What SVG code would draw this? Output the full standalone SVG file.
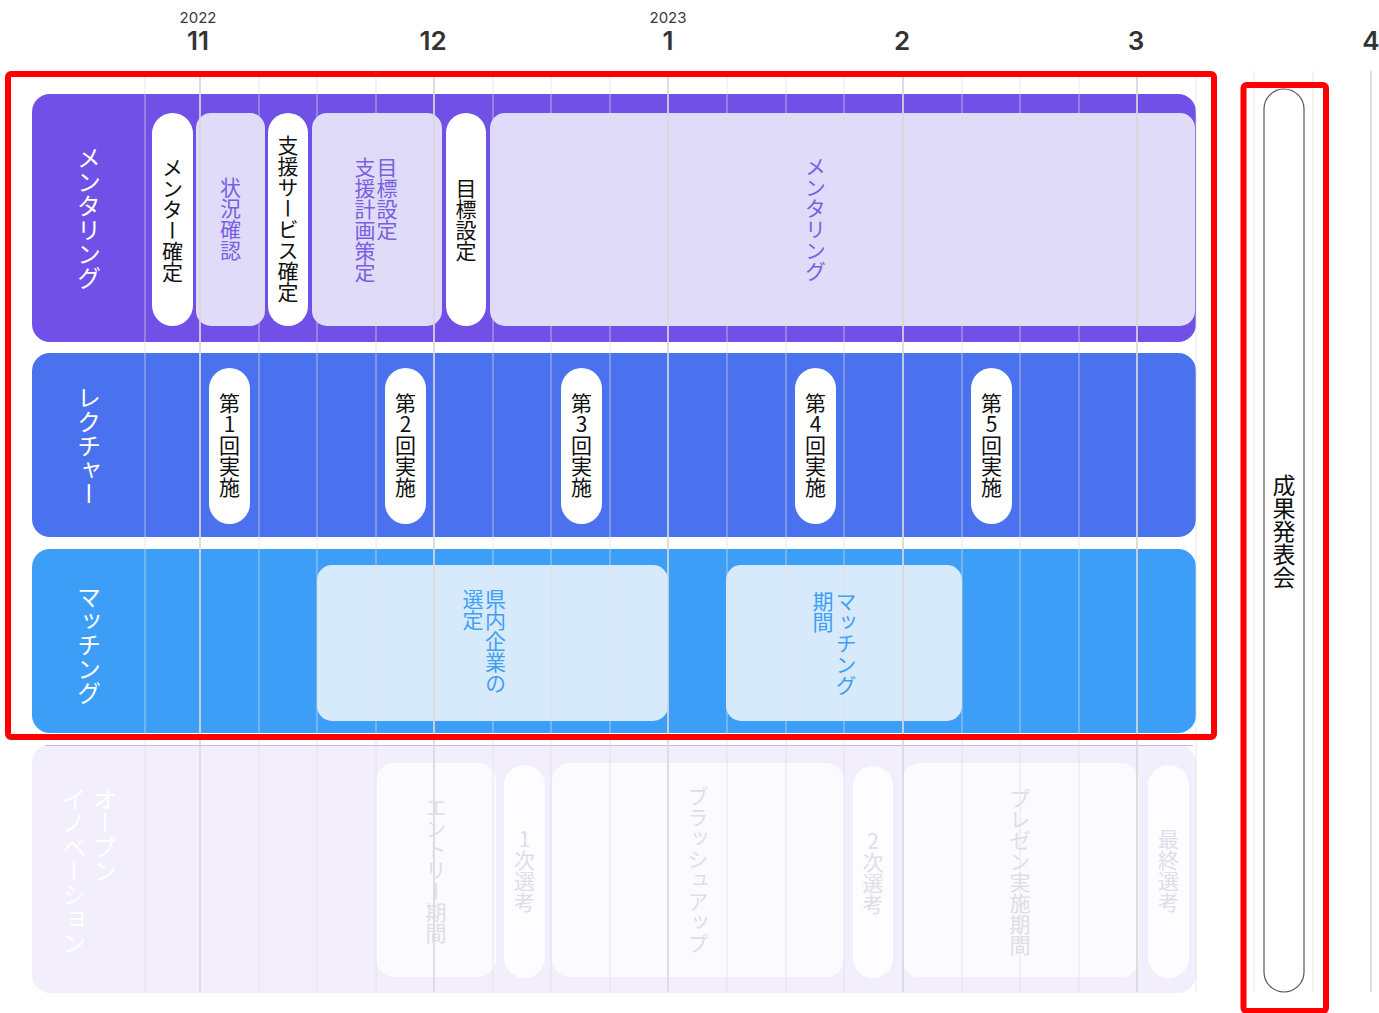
<svg xmlns="http://www.w3.org/2000/svg" width="1379" height="1013" viewBox="0 0 1379 1013">
<style>
.yr{font-family:Inter,"Noto Sans",sans-serif;font-size:15px;fill:#3a3a3a;text-anchor:middle}
.mo{font-family:Inter,"Noto Sans",sans-serif;font-size:26px;font-weight:600;fill:#333;text-anchor:middle}
.v{writing-mode:vertical-rl;text-orientation:upright;font-family:"Noto Sans CJK JP",sans-serif;font-size:21px;text-anchor:middle}
.vs{writing-mode:vertical-rl;text-orientation:upright;font-family:"Noto Sans CJK JP",sans-serif;font-size:21px;text-anchor:start}
.head{font-size:24px;fill:#fff}
.blk{fill:#111}
.lav{fill:#7a5fe0}
.sky{fill:#3f9ff5}
.fad{fill:#e0dde8}
.g{stroke:#dedede;stroke-opacity:.7;stroke-width:1}
.gm{stroke:#d8d8d8;stroke-opacity:.85;stroke-width:2}
.pill{fill:#fff}
.red{fill:none;stroke:#ff0000;stroke-width:6}
</style>
<rect width="1379" height="1013" fill="#fff"/>
<g id="timeline-header">
<text class="yr" x="198" y="23">2022</text>
<text class="yr" x="668" y="23">2023</text>
<text class="mo" x="198" y="50">11</text>
<text class="mo" x="433" y="50">12</text>
<text class="mo" x="668" y="50">1</text>
<text class="mo" x="902" y="50">2</text>
<text class="mo" x="1136" y="50">3</text>
<text class="mo" x="1371" y="50">4</text>
</g>
<g id="row-mentoring">
<rect x="32" y="94" width="1164" height="248" rx="18" fill="#7050e6"/>
<rect x="196" y="113" width="69" height="213" rx="15" fill="#dfdbf9"/>
<rect x="312" y="113" width="130" height="213" rx="15" fill="#dfdbf9"/>
<rect x="490" y="113" width="705" height="213" rx="15" fill="#dfdbf9"/>
</g>
<g id="row-lecture">
<rect x="32" y="353" width="1164" height="184" rx="18" fill="#4a72ee"/>
</g>
<g id="row-matching">
<rect x="32" y="549" width="1164" height="184" rx="18" fill="#3c9ef7"/>
<rect x="317" y="565" width="351" height="156" rx="15" fill="#d7eafb"/>
<rect x="726" y="565" width="236" height="156" rx="15" fill="#d7eafb"/>
</g>
<g id="row-open-innovation">
<rect x="32" y="745" width="1164" height="248" rx="18" fill="#f3eefc"/>
<line x1="45" y1="745.5" x2="1193" y2="745.5" stroke="#c4b9ee" stroke-width="1"/>
<rect x="376" y="763" width="120" height="214" rx="18" fill="#fbfaff"/>
<rect x="552" y="763" width="292" height="214" rx="18" fill="#fbfaff"/>
<rect x="902" y="763" width="237" height="214" rx="18" fill="#fbfaff"/>
</g>
<g id="grid">
<line class="g" x1="145" y1="71" x2="145" y2="992"/>
<line class="gm" x1="200" y1="71" x2="200" y2="992"/>
<line class="g" x1="259" y1="71" x2="259" y2="992"/>
<line class="g" x1="317" y1="71" x2="317" y2="992"/>
<line class="g" x1="376" y1="71" x2="376" y2="992"/>
<line class="gm" x1="434" y1="71" x2="434" y2="992"/>
<line class="g" x1="493" y1="71" x2="493" y2="992"/>
<line class="g" x1="551" y1="71" x2="551" y2="992"/>
<line class="g" x1="610" y1="71" x2="610" y2="992"/>
<line class="gm" x1="668" y1="71" x2="668" y2="992"/>
<line class="g" x1="727" y1="71" x2="727" y2="992"/>
<line class="g" x1="786" y1="71" x2="786" y2="992"/>
<line class="g" x1="844" y1="71" x2="844" y2="992"/>
<line class="gm" x1="903" y1="71" x2="903" y2="992"/>
<line class="g" x1="962" y1="71" x2="962" y2="992"/>
<line class="g" x1="1020" y1="71" x2="1020" y2="992"/>
<line class="g" x1="1079" y1="71" x2="1079" y2="992"/>
<line class="gm" x1="1137" y1="71" x2="1137" y2="992"/>
<line class="g" x1="1196" y1="71" x2="1196" y2="992"/>
<line class="g" x1="1254" y1="71" x2="1254" y2="992"/>
<line class="g" x1="1313" y1="71" x2="1313" y2="992"/>
<line class="gm" x1="1371" y1="71" x2="1371" y2="992"/>
</g>
<g id="mentoring-items">
<text class="v head" x="89" y="218">メンタリング</text>
<rect class="pill" x="152" y="113" width="41" height="213" rx="20.5"/>
<text class="v blk" x="172.5" y="220">メンター確定</text>
<text class="v lav" x="230.5" y="219">状況確認</text>
<rect class="pill" x="268" y="113" width="40" height="213" rx="20"/>
<text class="v blk" x="288" y="219">支援サービス確定</text>
<text class="vs lav" x="387" y="157">目標設定</text>
<text class="vs lav" x="365" y="157">支援計画策定</text>
<rect class="pill" x="446" y="113" width="40" height="213" rx="20"/>
<text class="v blk" x="466" y="220">目標設定</text>
<text class="v lav" x="815.5" y="218.5">メンタリング</text>
</g>
<g id="lecture-items">
<text class="v head" x="89" y="446">レクチャー</text>
<rect class="pill" x="209" y="368" width="41" height="156" rx="20.5"/>
<text class="v blk" x="229.5" y="445">第1回実施</text>
<rect class="pill" x="385" y="368" width="41" height="156" rx="20.5"/>
<text class="v blk" x="405.5" y="445">第2回実施</text>
<rect class="pill" x="561" y="368" width="41" height="156" rx="20.5"/>
<text class="v blk" x="581.5" y="445">第3回実施</text>
<rect class="pill" x="795" y="368" width="41" height="156" rx="20.5"/>
<text class="v blk" x="815.5" y="445">第4回実施</text>
<rect class="pill" x="971" y="368" width="41" height="156" rx="20.5"/>
<text class="v blk" x="991.5" y="445">第5回実施</text>
</g>
<g id="matching-items">
<text class="v head" x="89" y="645">マッチング</text>
<text class="vs sky" x="495.5" y="589">県内企業の</text>
<text class="vs sky" x="473" y="589">選定</text>
<text class="vs sky" x="846" y="591">マッチング</text>
<text class="vs sky" x="823" y="591">期間</text>
</g>
<g id="open-innovation-items">
<text class="vs head" x="105" y="787">オープン</text>
<text class="vs head" x="74" y="787">イノベーション</text>
<text class="v fad" x="436" y="870">エントリー期間</text>
<rect x="504" y="765" width="41" height="213" rx="20.5" fill="#fdfcff"/>
<text class="v fad" x="524.5" y="871">1次選考</text>
<text class="v fad" x="698" y="870">ブラッシュアップ</text>
<rect x="853" y="766" width="40" height="212" rx="20" fill="#fdfcff"/>
<text class="v fad" x="873" y="873">2次選考</text>
<text class="v fad" x="1020" y="872">プレゼン実施期間</text>
<rect x="1148" y="765" width="41" height="213" rx="20.5" fill="#fdfcff"/>
<text class="v fad" x="1168.5" y="871">最終選考</text>
</g>
<g id="final-presentation">
<rect x="1264" y="89" width="40" height="903" rx="20" fill="#fff" stroke="#555" stroke-width="1.2"/>
<text class="v blk" x="1284" y="531" style="font-size:23px">成果発表会</text>
</g>
<g id="highlights">
<rect class="red" x="8" y="74" width="1206" height="663" rx="3"/>
<rect class="red" x="1243.5" y="85" width="82.5" height="926" rx="3"/>
</g>
</svg>
